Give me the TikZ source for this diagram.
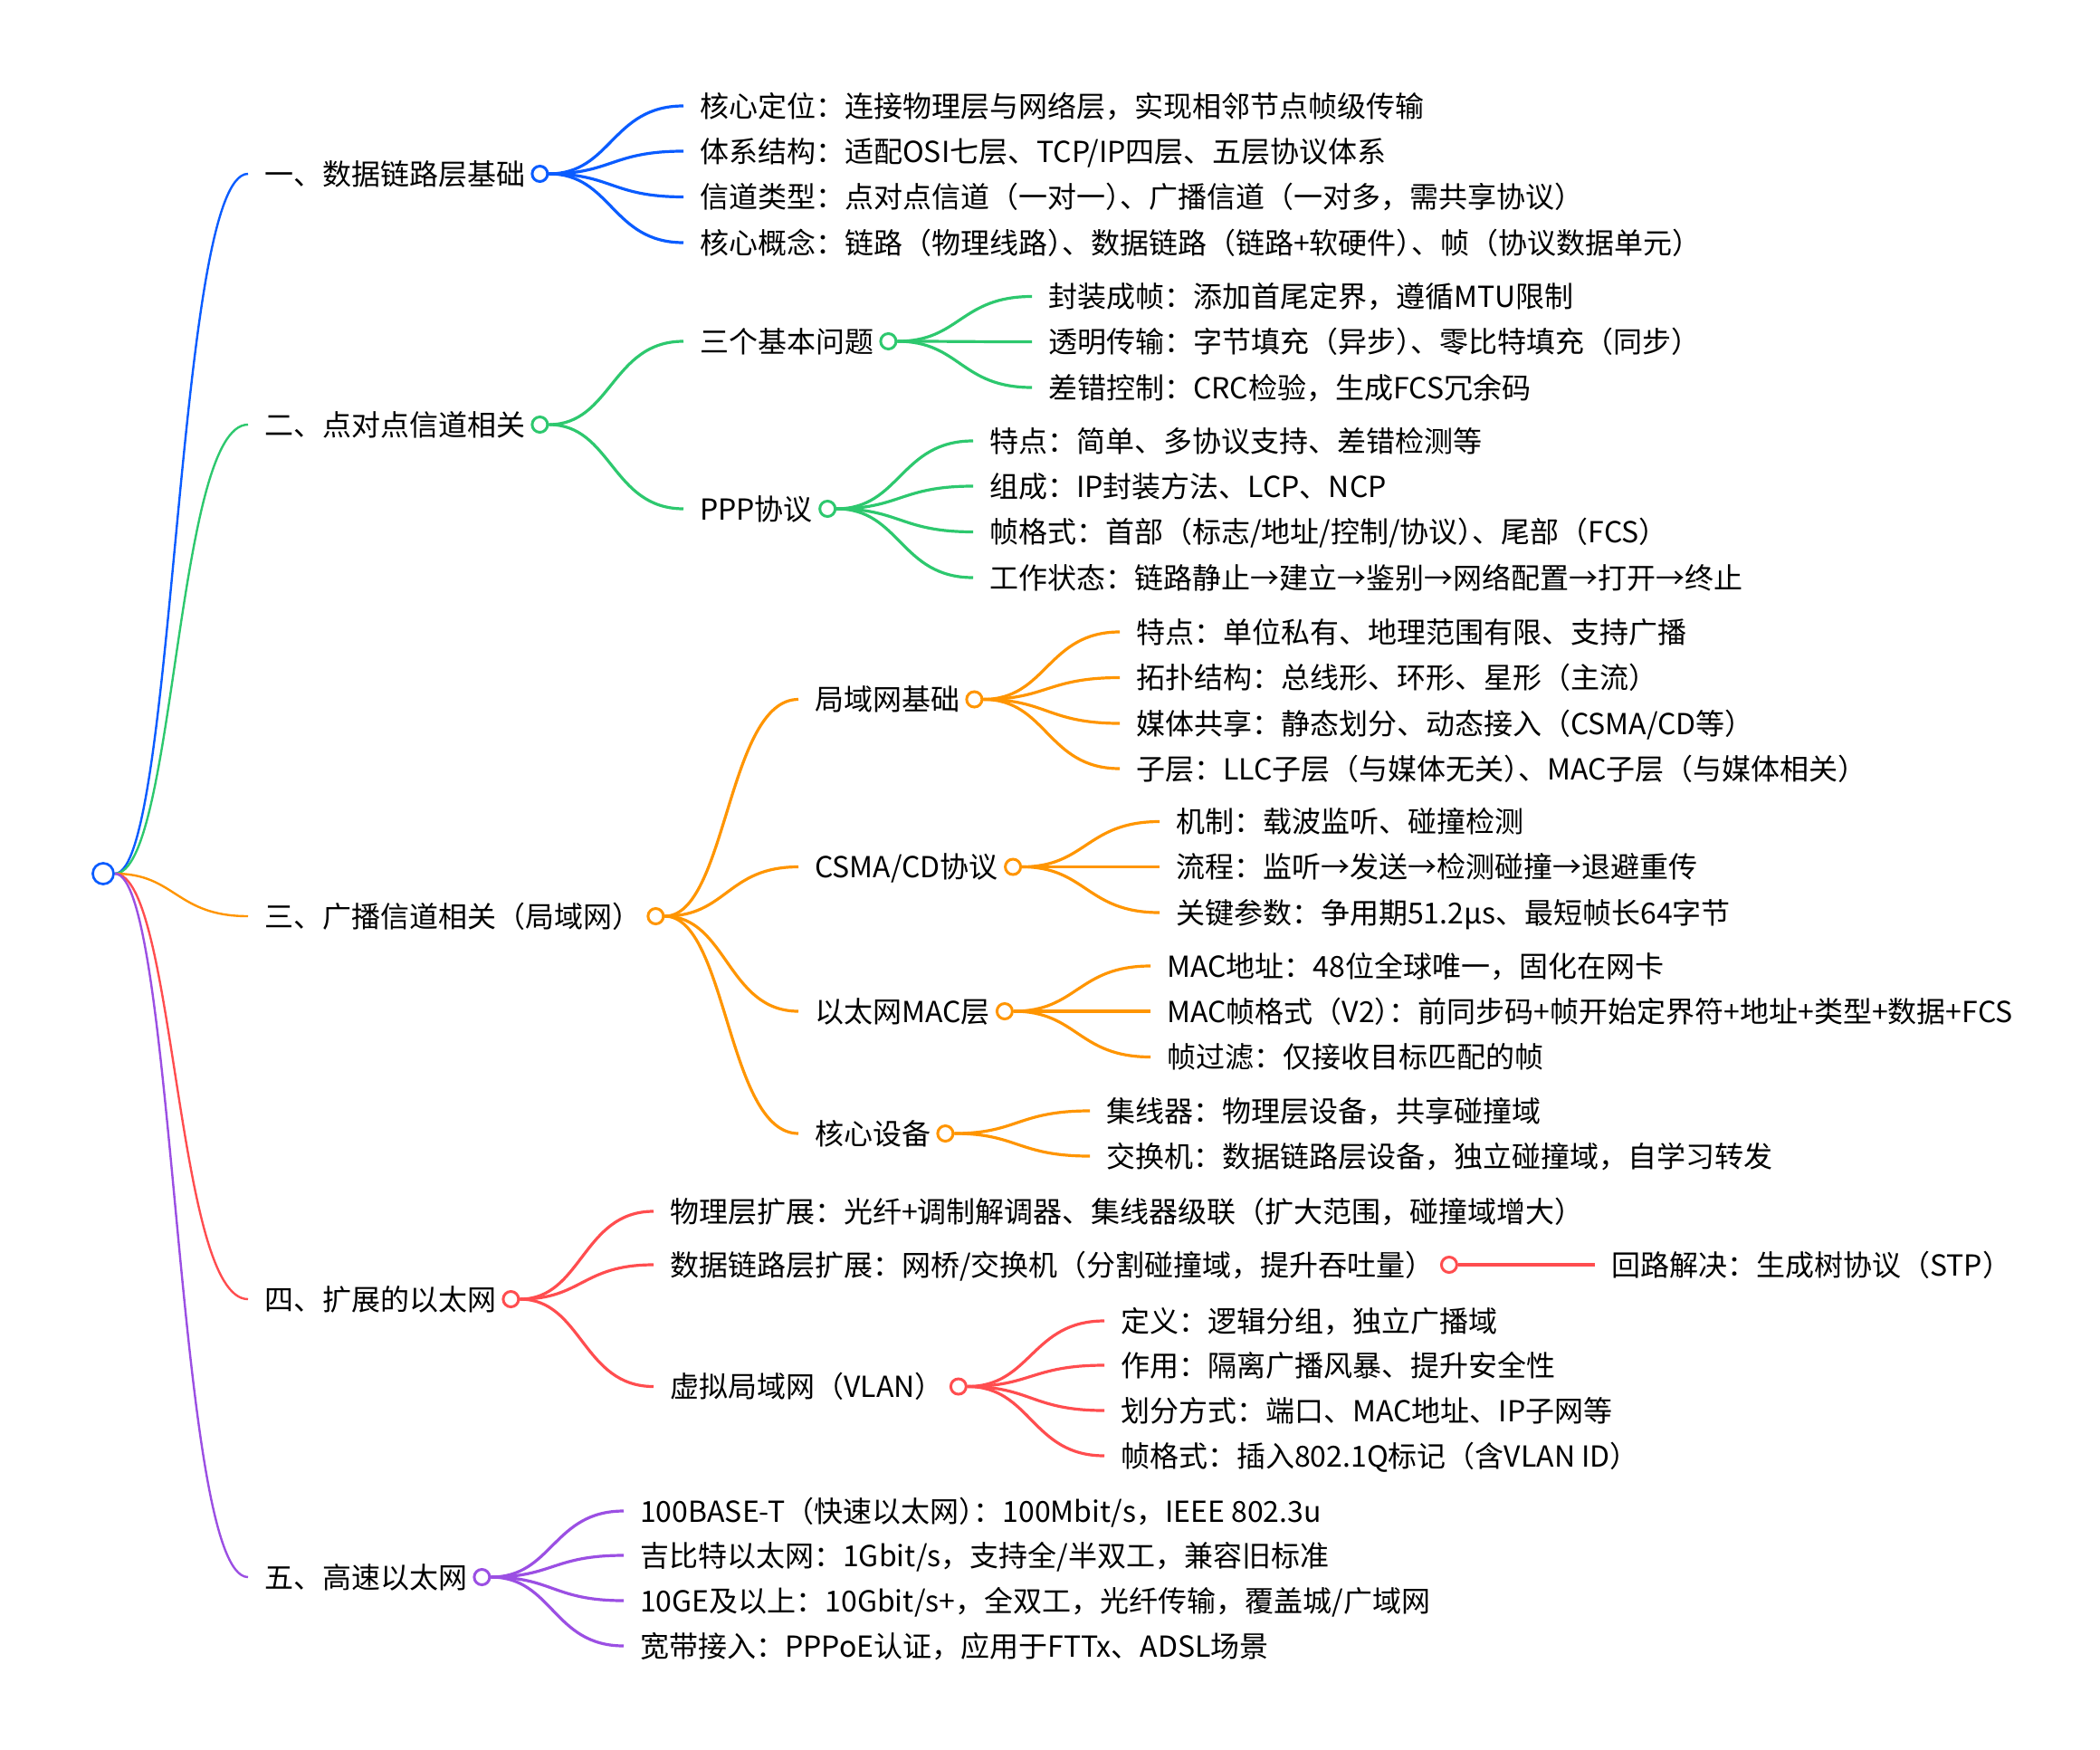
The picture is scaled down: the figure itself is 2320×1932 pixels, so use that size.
\documentclass[tikz,border=0pt]{standalone}
\usepackage{fontspec}
\setmainfont{Noto Sans CJK SC}
\usetikzlibrary{calc}
\pgfdeclarelayer{bg}
\pgfsetlayers{bg,main}
\definecolor{cblue}{HTML}{0A5CFF}
\definecolor{cgreen}{HTML}{2DC86E}
\definecolor{corange}{HTML}{FF9500}
\definecolor{cred}{HTML}{FF4D4F}
\definecolor{cpurple}{HTML}{9B4FE3}
\newcommand\mmfont{\fontsize{32pt}{38pt}\selectfont}
\newcommand\trm{\kern-0.5em}
\begin{document}
\begin{tikzpicture}[x=1pt,y=1pt,
  txt/.style={anchor=west, inner xsep=18pt, inner ysep=0pt, text height=28.2pt, text depth=3.8pt, font=\mmfont, text=black},
  dot/.style={circle, draw=#1, fill=white, line width=3pt, minimum size=17pt, inner sep=0pt},
  rootdot/.style={circle, draw=#1, fill=white, line width=2.7pt, minimum size=23pt, inner sep=0pt},
  mm/.style={to path={let \p1=(\tikztostart), \p2=(\tikztotarget), \n1={0.5*(\x1+\x2)} in .. controls (\n1,\y1) and (\n1,\y2) .. (\tikztotarget)}},
  ln/.style={draw=#1, line width=3.2pt},
  rl/.style={draw=#1, line width=2.4pt},
]
\useasboundingbox (0,0) rectangle (2320,-1932);

% root
\node[rootdot=cblue] (root) at (114,-965) {};

% level 1
\node[txt] (tA) at (274,-192) {一、数据链路层基础};
\node[dot=cblue] (cA) at ([xshift=-2pt]tA.east) {};
\node[txt] (tB) at (274,-469) {二、点对点信道相关};
\node[dot=cgreen] (cB) at ([xshift=-2pt]tB.east) {};
\node[txt] (tC) at (274,-1012) {三、广播信道相关（局域网）};
\node[dot=corange] (cC) at ([xshift=-2pt]tC.east) {};
\node[txt] (tD) at (274,-1435) {四、扩展的以太网};
\node[dot=cred] (cD) at ([xshift=-2pt]tD.east) {};
\node[txt] (tE) at (274,-1742) {五、高速以太网};
\node[dot=cpurple] (cE) at ([xshift=-2pt]tE.east) {};

% A children
\node[txt] (a1) at (755,-117) {核心定位：连接物理层与网络层，实现相邻节点帧级传输};
\node[txt] (a2) at (755,-167) {体系结构：适配OSI七层、TCP/IP四层、五层协议体系};
\node[txt] (a3) at (755,-217.5) {信道类型：点对点信道（一对一）\trm、广播信道（一对多，需共享协议）};
\node[txt] (a4) at (755,-268) {核心概念：链路（物理线路）\trm、数据链路（链路+软硬件）\trm、帧（协议数据单元）};

% B children
\node[txt] (b1) at (755,-377) {三个基本问题};
\node[dot=cgreen] (cb1) at ([xshift=-2pt]b1.east) {};
\node[txt] (b2) at (755,-562) {PPP协议};
\node[dot=cgreen] (cb2) at ([xshift=-2pt]b2.east) {};
\node[txt] (b11) at (1140,-327.5) {封装成帧：添加首尾定界，遵循MTU限制};
\node[txt] (b12) at (1140,-377.5) {透明传输：字节填充（异步）\trm、零比特填充（同步）};
\node[txt] (b13) at (1140,-428) {差错控制：CRC检验，生成FCS冗余码};
\node[txt] (b21) at (1075,-487) {特点：简单、多协议支持、差错检测等};
\node[txt] (b22) at (1075,-537) {组成：IP封装方法、LCP、NCP};
\node[txt] (b23) at (1075,-587.5) {帧格式：首部（标志/地址/控制/协议）\trm、尾部（FCS）};
\node[txt] (b24) at (1075,-638) {工作状态：链路静止→建立→鉴别→网络配置→打开→终止};

% C children
\node[txt] (c1) at (882,-772.5) {局域网基础};
\node[dot=corange] (cc1) at ([xshift=-2pt]c1.east) {};
\node[txt] (c2) at (882,-957.5) {CSMA/CD协议};
\node[dot=corange] (cc2) at ([xshift=-2pt]c2.east) {};
\node[txt] (c3) at (882,-1117) {以太网MAC层};
\node[dot=corange] (cc3) at ([xshift=-2pt]c3.east) {};
\node[txt] (c4) at (882,-1252) {核心设备};
\node[dot=corange] (cc4) at ([xshift=-2pt]c4.east) {};
\node[txt] (c11) at (1237,-698) {特点：单位私有、地理范围有限、支持广播};
\node[txt] (c12) at (1237,-748.5) {拓扑结构：总线形、环形、星形（主流）};
\node[txt] (c13) at (1237,-799) {媒体共享：静态划分、动态接入（CSMA/CD等）};
\node[txt] (c14) at (1237,-849) {子层：LLC子层（与媒体无关）\trm、MAC子层（与媒体相关）};
\node[txt] (c21) at (1281,-907.5) {机制：载波监听、碰撞检测};
\node[txt] (c22) at (1281,-957.5) {流程：监听→发送→检测碰撞→退避重传};
\node[txt] (c23) at (1281,-1008) {关键参数：争用期51.2μs、最短帧长64字节};
\node[txt] (c31) at (1271,-1067) {MAC地址：48位全球唯一，固化在网卡};
\node[txt] (c32) at (1271,-1117) {MAC帧格式（V2）\trm：前同步码+帧开始定界符+地址+类型+数据+FCS};
\node[txt] (c33) at (1271,-1167.5) {帧过滤：仅接收目标匹配的帧};
\node[txt] (c41) at (1204,-1227) {集线器：物理层设备，共享碰撞域};
\node[txt] (c42) at (1204,-1277) {交换机：数据链路层设备，独立碰撞域，自学习转发};

% D children
\node[txt] (d1) at (722,-1338) {物理层扩展：光纤+调制解调器、集线器级联（扩大范围，碰撞域增大）};
\node[txt] (d2) at (722,-1397) {数据链路层扩展：网桥/交换机（分割碰撞域，提升吞吐量）};
\node[dot=cred] (cd2) at ([xshift=-2pt]d2.east) {};
\node[txt] (d3) at (722,-1531.5) {虚拟局域网（VLAN）};
\node[dot=cred] (cd3) at ([xshift=-2pt]d3.east) {};
\node[txt] (d21) at (1762,-1397) {回路解决：生成树协议（STP）};
\node[txt] (d31) at (1220,-1459) {定义：逻辑分组，独立广播域};
\node[txt] (d32) at (1220,-1508) {作用：隔离广播风暴、提升安全性};
\node[txt] (d33) at (1220,-1558) {划分方式：端口、MAC地址、IP子网等};
\node[txt] (d34) at (1220,-1608) {帧格式：插入802.1Q标记（含VLAN ID）};

% E children
\node[txt] (e1) at (689,-1669) {100BASE-T（快速以太网）\trm：100Mbit/s，IEEE 802.3u};
\node[txt] (e2) at (689,-1718) {吉比特以太网：1Gbit/s，支持全/半双工，兼容旧标准};
\node[txt] (e3) at (689,-1768) {10GE及以上：10Gbit/s+，全双工，光纤传输，覆盖城/广域网};
\node[txt] (e4) at (689,-1818) {宽带接入：PPPoE认证，应用于FTTx、ADSL场景};

\begin{pgfonlayer}{bg}
\fill[white] (0,0) rectangle (2320,-1932);
% root links
\draw[rl=cblue] (root) to[mm] (tA.west);
\draw[rl=cgreen] (root) to[mm] (tB.west);
\draw[rl=corange] (root) to[mm] (tC.west);
\draw[rl=cred] (root) to[mm] (tD.west);
\draw[rl=cpurple] (root) to[mm] (tE.west);
% A
\foreach \k in {a1,a2,a3,a4} {\draw[ln=cblue] (cA) to[mm] (\k.west);}
% B
\foreach \k in {b1,b2} {\draw[ln=cgreen] (cB) to[mm] (\k.west);}
\foreach \k in {b11,b12,b13} {\draw[ln=cgreen] (cb1) to[mm] (\k.west);}
\foreach \k in {b21,b22,b23,b24} {\draw[ln=cgreen] (cb2) to[mm] (\k.west);}
% C
\foreach \k in {c1,c2,c3,c4} {\draw[ln=corange] (cC) to[mm] (\k.west);}
\foreach \k in {c11,c12,c13,c14} {\draw[ln=corange] (cc1) to[mm] (\k.west);}
\foreach \k in {c21,c22,c23} {\draw[ln=corange] (cc2) to[mm] (\k.west);}
\foreach \k in {c31,c32,c33} {\draw[ln=corange] (cc3) to[mm] (\k.west);}
\foreach \k in {c41,c42} {\draw[ln=corange] (cc4) to[mm] (\k.west);}
% D
\foreach \k in {d1,d2,d3} {\draw[ln=cred] (cD) to[mm] (\k.west);}
\draw[ln=cred] (cd2) to[mm] (d21.west);
\foreach \k in {d31,d32,d33,d34} {\draw[ln=cred] (cd3) to[mm] (\k.west);}
% E
\foreach \k in {e1,e2,e3,e4} {\draw[ln=cpurple] (cE) to[mm] (\k.west);}
\end{pgfonlayer}
\end{tikzpicture}
\end{document}
